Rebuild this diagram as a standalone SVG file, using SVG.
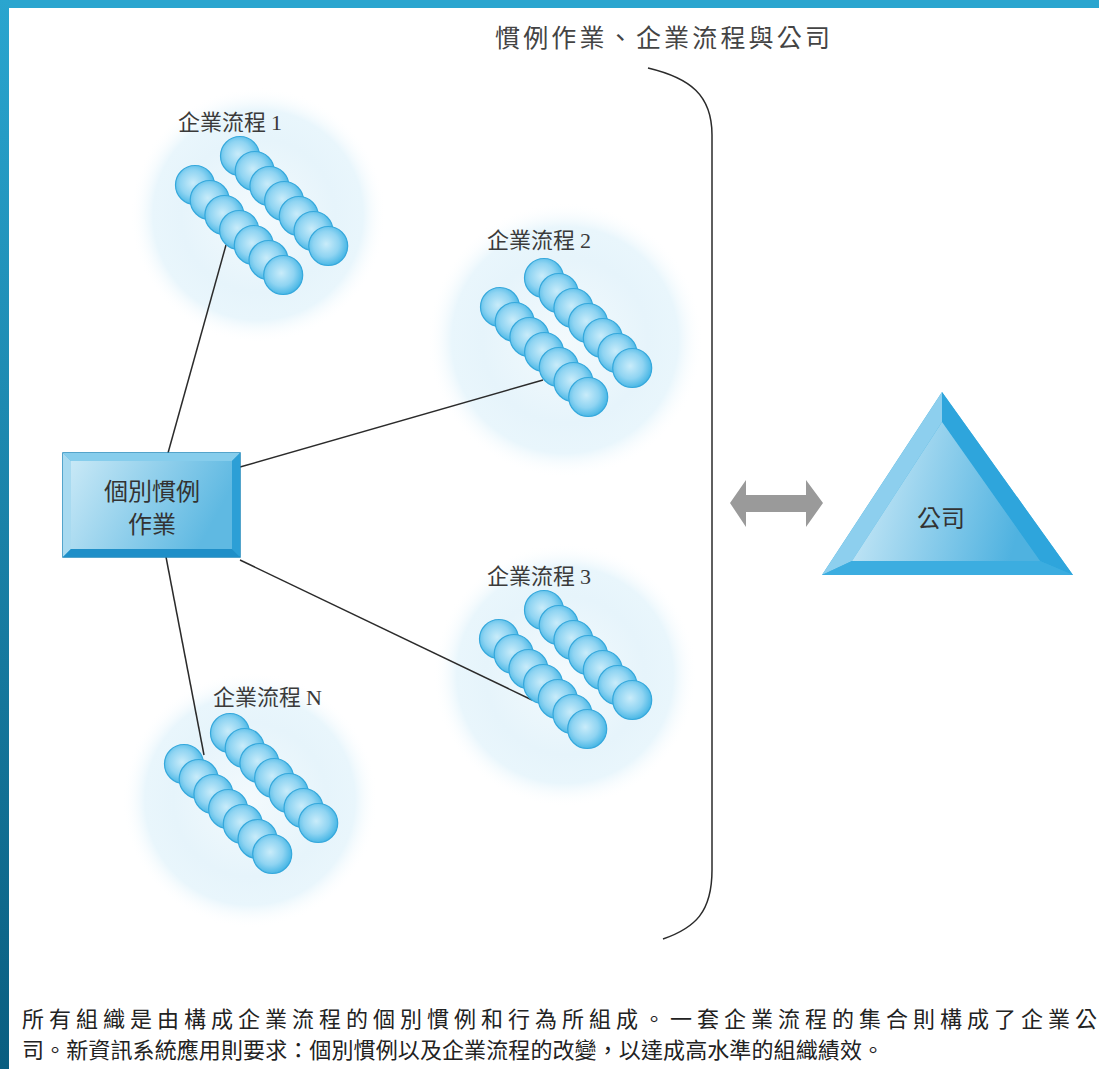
<svg xmlns="http://www.w3.org/2000/svg" width="1099" height="1069" viewBox="0 0 1099 1069">
<defs>
<radialGradient id="bead" cx="0.45" cy="0.45" r="0.6">
<stop offset="0" stop-color="#c9ecfa"/>
<stop offset="0.55" stop-color="#8fd4f2"/>
<stop offset="1" stop-color="#3ab1e3"/>
</radialGradient>
<radialGradient id="halo" cx="0.5" cy="0.5" r="0.5">
<stop offset="0" stop-color="#f3fafd"/>
<stop offset="0.6" stop-color="#e6f4fb"/>
<stop offset="0.82" stop-color="#e9f6fc"/>
<stop offset="1" stop-color="#ffffff" stop-opacity="0"/>
</radialGradient>
<linearGradient id="face" x1="0" y1="0" x2="1" y2="0.3">
<stop offset="0" stop-color="#c8e8f6"/>
<stop offset="1" stop-color="#5fb9e2"/>
</linearGradient>
<linearGradient id="triface" x1="0" y1="0" x2="1" y2="0.2">
<stop offset="0" stop-color="#d6eef9"/>
<stop offset="1" stop-color="#4fb2e0"/>
</linearGradient>
<linearGradient id="band" x1="0" y1="0" x2="0" y2="1">
<stop offset="0" stop-color="#2aa5cf"/>
<stop offset="1" stop-color="#0a5e80"/>
</linearGradient>
<g id="row">
<circle cx="0" cy="0" r="19.5"/>
<circle cx="14.7" cy="15" r="19.5"/>
<circle cx="29.4" cy="30" r="19.5"/>
<circle cx="44.1" cy="45" r="19.5"/>
<circle cx="58.8" cy="60" r="19.5"/>
<circle cx="73.5" cy="75" r="19.5"/>
<circle cx="88.2" cy="90" r="19.5"/>
</g>
</defs>
<style>
.bd{fill:url(#bead);stroke:#35a8dc;stroke-width:1.2}
.lbl{font-family:"Noto Sans CJK TC","Noto Sans CJK SC",sans-serif;font-size:22px;fill:#3a3a3a}
.num{font-family:"Liberation Serif",serif}
.ln{stroke:#2b2b2b;stroke-width:1.5;fill:none}
.cap{font-family:"Noto Sans CJK TC",sans-serif;font-size:22px;fill:#222}
</style>
<rect width="1099" height="1069" fill="#ffffff"/>
<rect x="0" y="0" width="1099" height="8" fill="#2aa5cf"/>
<rect x="0" y="0" width="9" height="1069" fill="url(#band)"/>

<g id="halos">
<circle cx="258" cy="215" r="128" fill="url(#halo)"/>
<circle cx="565" cy="340" r="138" fill="url(#halo)"/>
<circle cx="565" cy="675" r="132" fill="url(#halo)"/>
<circle cx="250" cy="800" r="128" fill="url(#halo)"/>
</g>

<g id="connectors">
<line class="ln" x1="168" y1="453" x2="226" y2="245"/>
<line class="ln" x1="240" y1="467" x2="543" y2="380"/>
<line class="ln" x1="240" y1="560" x2="532" y2="700"/>
<line class="ln" x1="166" y1="557" x2="204" y2="755"/>
<path class="ln" d="M648,68 C690,78 712,95 712,135 L712,870 C712,912 695,928 663,939"/>
</g>

<g id="process1">
<use href="#row" class="bd" x="240" y="156"/>
<use href="#row" class="bd" x="195" y="185"/>
<text class="lbl" x="178" y="130">企業流程 <tspan class="num">1</tspan></text>
</g>
<g id="process2">
<use href="#row" class="bd" x="544" y="278"/>
<use href="#row" class="bd" x="500" y="307"/>
<text class="lbl" x="487" y="248">企業流程 <tspan class="num">2</tspan></text>
</g>
<g id="process3">
<use href="#row" class="bd" x="544" y="610"/>
<use href="#row" class="bd" x="499" y="639"/>
<text class="lbl" x="487" y="584">企業流程 <tspan class="num">3</tspan></text>
</g>
<g id="processN">
<use href="#row" class="bd" x="230" y="733"/>
<use href="#row" class="bd" x="184" y="764"/>
<text class="lbl" x="213" y="705">企業流程 <tspan class="num">N</tspan></text>
</g>

<g id="routine">
<rect x="63" y="453" width="177" height="104" fill="#3aa8dc" stroke="#1d86bb" stroke-width="1.5"/>
<polygon points="63,453 240,453 232,461 71,461" fill="#86cdec"/>
<polygon points="63,453 71,461 71,549 63,557" fill="#a8daf0"/>
<polygon points="240,453 240,557 232,549 232,461" fill="#2c9fd6"/>
<polygon points="63,557 71,549 232,549 240,557" fill="#1f8fc8"/>
<rect x="71" y="461" width="161" height="88" fill="url(#face)"/>
<text class="lbl" x="152" y="500" text-anchor="middle" style="font-size:24px;fill:#333">個別慣例</text>
<text class="lbl" x="152" y="533" text-anchor="middle" style="font-size:24px;fill:#333">作業</text>
</g>

<g id="arrow">
<polygon points="730,503 746,480 746,495 806,495 806,480 823,503 806,527 806,512 746,512 746,527" fill="#9a9a9a"/>
</g>

<g id="company">
<polygon points="942,392 822,575 1073,575" fill="#3aaee0"/>
<polygon points="942,392 942,422 852,561 822,575" fill="#8dcfee"/>
<polygon points="942,392 1073,575 1040,561 942,422" fill="#2ea5dc"/>
<polygon points="822,575 852,561 1040,561 1073,575" fill="#3cade0"/>
<polygon points="942,422 852,561 1040,561" fill="url(#triface)"/>
<text class="lbl" x="941" y="527" text-anchor="middle" style="font-size:24px;fill:#333">公司</text>
</g>

<text class="lbl" x="495" y="47" style="font-size:25px;fill:#444" textLength="335">慣例作業、企業流程與公司</text>

<g id="caption">
<text class="cap" x="22" y="1027" textLength="1075" lengthAdjust="spacing">所有組織是由構成企業流程的個別慣例和行為所組成。一套企業流程的集合則構成了企業公</text>
<text class="cap" x="22" y="1058" textLength="862" lengthAdjust="spacing">司。新資訊系統應用則要求：個別慣例以及企業流程的改變，以達成高水準的組織績效。</text>
</g>
</svg>
